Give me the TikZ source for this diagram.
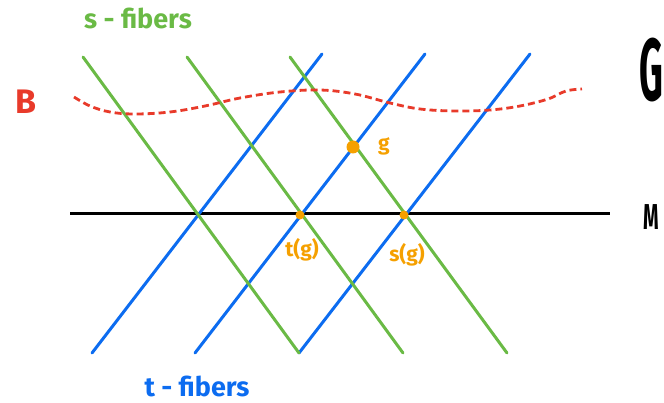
\documentclass[tikz,border=0pt]{standalone}
\usepackage{fontspec}
\setmainfont{Fira Sans}
\definecolor{fgreen}{RGB}{106,186,69}
\definecolor{fblue}{RGB}{12,108,240}
\definecolor{fred}{RGB}{232,58,42}
\definecolor{forange}{RGB}{245,160,0}
\begin{document}
\begin{tikzpicture}[x=1pt,y=-1pt,
  sfib/.style={draw=fgreen,line width=3pt,line cap=round},
  tfib/.style={draw=fblue,line width=3pt,line cap=round},
  base/.style={draw=black,line width=3pt},
  pt/.style={circle,fill=forange,inner sep=0pt,minimum size=9pt},
  bigpt/.style={circle,fill=forange,inner sep=0pt,minimum size=13pt},
  olab/.style={text=forange,font=\bfseries\fontsize{21}{21}\selectfont},
  lab/.style={font=\bfseries\fontsize{27}{27}\selectfont}]
\useasboundingbox (0,0) rectangle (664,403);
\clip (0,0) rectangle (664,403);
% endpoints
\coordinate (g1a) at (83,57);  \coordinate (g1b) at (299,353);
\coordinate (g2a) at (187,57); \coordinate (g2b) at (403,353);
\coordinate (g3a) at (290,57); \coordinate (g3b) at (507,353);
\coordinate (b1a) at (92,353);  \coordinate (b1b) at (322,54);
\coordinate (b2a) at (195,353); \coordinate (b2b) at (425,54);
\coordinate (b3a) at (299,353); \coordinate (b3b) at (530,54);
\coordinate (ma) at (70,214); \coordinate (mb) at (610,214);
% base M
\draw[base] (ma) -- (mb);
% fibers
\draw[tfib] (b1a) -- (b1b);
\draw[tfib] (b2a) -- (b2b);
\draw[tfib] (b3a) -- (b3b);
\draw[sfib] (g1a) -- (g1b);
\draw[sfib] (g2a) -- (g2b);
\draw[sfib] (g3a) -- (g3b);
% bisection B
\draw[fred,line width=2.8pt,dash pattern=on 7pt off 4pt] plot[smooth,tension=0.6] coordinates
 {(74,97) (90,106) (110,112) (135,114) (170,112) (205,106) (240,98) (280,92) (320,90) (355,94) (390,103) (420,109) (455,111) (490,110) (520,106) (548,99) (566,91) (582,89)};
% points
\node[bigpt] (g) at (353,147) {};
\node[pt] (tg) at (300,215) {};
\node[pt] (sg) at (404,215) {};
% labels
\node[olab] (glab) at (384,146) {g};
\node[olab] (tglab) at (302,250) {t(g)};
\node[olab] (sglab) at (407,255) {s(g)};
\node[lab,text=fgreen] (slab) at (138,18) {s - fibers};
\node[lab,text=fblue] (tlab) at (197,386) {t - fibers};
\node[text=fred,font=\bfseries\fontsize{34}{34}\selectfont] (blab) at (26,102) {B};
\node[font=\bfseries\fontsize{88}{88}\selectfont,xscale=0.42,anchor=west,inner sep=0pt] (Glab) at (639,70) {G};
\node[font=\bfseries\fontsize{36}{36}\selectfont,xscale=0.55,anchor=west,inner sep=0pt] (Mlab) at (643,217) {M};
\end{tikzpicture}
\end{document}
